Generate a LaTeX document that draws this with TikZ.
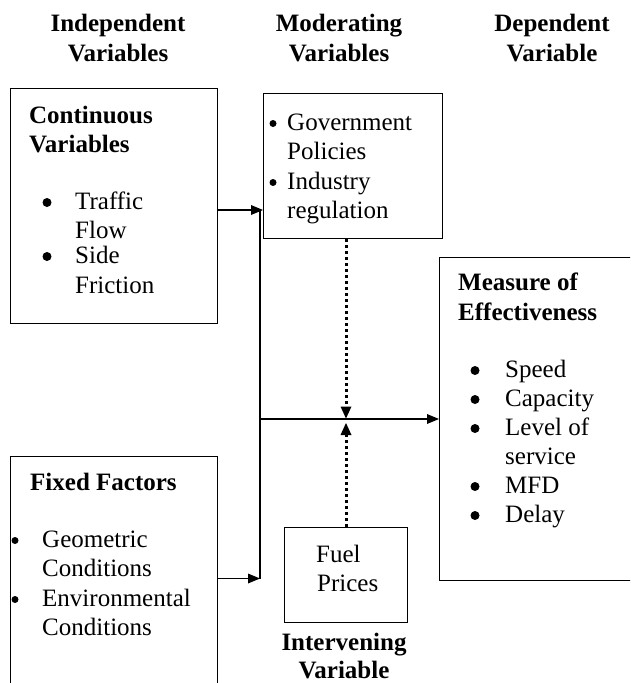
\documentclass[tikz,border=0pt]{standalone}
\usepackage{fontspec}
\setmainfont{Liberation Serif}
\usetikzlibrary{arrows.meta}
\begin{document}
\begin{tikzpicture}[x=1pt,y=-1pt,
  box/.style={draw, line width=1.1pt, rectangle, inner sep=0pt, anchor=north west},
  txt/.style={anchor=base west, inner sep=0pt, font=\fontsize{25}{29.5}\selectfont},
  btxt/.style={txt, font=\fontsize{25}{29.5}\selectfont\bfseries},
  hdr/.style={anchor=base, inner sep=0pt, font=\fontsize{25}{29.5}\selectfont\bfseries},
  bigbul/.style={circle, fill, inner sep=0pt, minimum size=9pt, yshift=6.5pt},
  smallbul/.style={circle, fill, inner sep=0pt, minimum size=7pt, yshift=6.5pt},
  arr/.style={line width=1.1pt, -{Triangle[length=12pt,width=10pt,line width=0pt]}},
  dotarr/.style={line width=3pt, dash pattern=on 3pt off 3pt, -{Triangle[length=12pt,width=11pt,line width=0pt]}},
  trunk/.style={line width=1.1pt}
]
\useasboundingbox (0,0) rectangle (630,683);
\clip (0,0) rectangle (630,683);

% headers
\node[hdr] (h1a) at (118,31) {Independent};
\node[hdr] (h1b) at (118,61) {Variables};
\node[hdr] (h2a) at (339,31) {Moderating};
\node[hdr] (h2b) at (339,61) {Variables};
\node[hdr] (h3a) at (552,31) {Dependent};
\node[hdr] (h3b) at (552,61) {Variable};
\node[hdr] (h4a) at (344,650) {Intervening};
\node[hdr] (h4b) at (344,678) {Variable};

% boxes
\node[box, minimum width=207pt, minimum height=235pt] (cont) at (10,88) {};
\node[box, minimum width=179pt, minimum height=145pt] (mod) at (263,93) {};
\node[box, minimum width=230pt, minimum height=323pt] (meas) at (439,257) {};
\node[box, minimum width=207pt, minimum height=260pt] (fix) at (10,456) {};
\node[box, minimum width=123pt, minimum height=95pt] (fuel) at (284,527) {};

% continuous box text
\node[btxt] (c1) at (29,123) {Continuous};
\node[btxt] (c2) at (29,152) {Variables};
\node[bigbul] (cb1) at (47,209) {};
\node[txt] (c3) at (75,209) {Traffic};
\node[txt] (c4) at (75,238) {Flow};
\node[bigbul] (cb2) at (47,263) {};
\node[txt] (c5) at (75,263) {Side};
\node[txt] (c6) at (75,293) {Friction};

% moderating box text
\node[smallbul] (mb1) at (273,130) {};
\node[txt] (m1) at (287,130) {Government};
\node[txt] (m2) at (287,159) {Policies};
\node[smallbul] (mb2) at (273,189) {};
\node[txt] (m3) at (287,189) {Industry};
\node[txt] (m4) at (287,218) {regulation};

% measure box text
\node[btxt] (e1) at (458,290) {Measure of};
\node[btxt] (e2) at (458,320) {Effectiveness};
\node[bigbul] (eb1) at (475,377) {};
\node[txt] (e3) at (505,377) {Speed};
\node[bigbul] (eb2) at (475,406) {};
\node[txt] (e4) at (505,406) {Capacity};
\node[bigbul] (eb3) at (475,435) {};
\node[txt] (e5) at (505,435) {Level of};
\node[txt] (e6) at (505,464) {service};
\node[bigbul] (eb4) at (475,493) {};
\node[txt] (e7) at (505,493) {MFD};
\node[bigbul] (eb5) at (475,522) {};
\node[txt] (e8) at (505,522) {Delay};

% fixed box text
\node[btxt] (f1) at (30,490) {Fixed Factors};
\node[smallbul] (fb1) at (15,547) {};
\node[txt] (f2) at (42,547) {Geometric};
\node[txt] (f3) at (42,576) {Conditions};
\node[smallbul] (fb2) at (15,606) {};
\node[txt] (f4) at (42,606) {Environmental};
\node[txt] (f5) at (42,635) {Conditions};

% fuel box text
\node[txt] (p1) at (316,562) {Fuel};
\node[txt] (p2) at (317,591) {Prices};

% connectors
\coordinate (trunkT) at (260,210);
\coordinate (trunkB) at (260,578.5);
\coordinate (meet) at (346,419);
\coordinate (downtip) at (346,418.5);
\coordinate (uptip) at (346,423);

\draw[trunk] (trunkT) -- (trunkB);
\draw[arr] (cont.east |- trunkT) -- (mod.west |- trunkT);
\draw[arr] (fix.east |- trunkB) -- (trunkB);
\draw[arr] (trunkB |- meet) -- (meas.west |- meet);
\draw[dotarr] (mod.south -| meet) -- (downtip);
\draw[dotarr] (fuel.north -| meet) -- (uptip);
\end{tikzpicture}
\end{document}
